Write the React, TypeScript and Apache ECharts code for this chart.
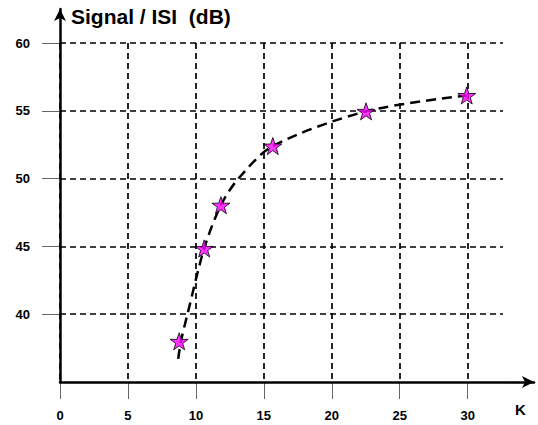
import React, { useEffect, useRef } from "react";
import * as echarts from "echarts";

const starK = [8.77, 10.61, 11.84, 15.66, 22.52, 29.93];
const starSignal = [38.0, 44.85, 48.04, 52.4, 54.96, 56.13];

const curveK = [8.7, 8.9, 9.38, 10.61, 11.84, 13.13, 15.66, 22.52, 29.93];
const curveSignal = [36.7, 38.0, 40.0, 44.85, 48.04, 50.0, 52.4, 54.96, 56.13];

const xTicks = [0, 5, 10, 15, 20, 25, 30];
const yTicks = [40, 45, 50, 55, 60];

const STAR =
  "path://M50,0 L61.8,35.1 L98.1,35.1 L68.8,56.7 L79.4,91.2 L50,70 L20.6,91.2 L31.2,56.7 L1.9,35.1 L38.2,35.1 Z";

const FONT = "'Liberation Sans', Arial, sans-serif";

export default function App() {
  const ref = useRef<HTMLDivElement>(null);
  useEffect(() => {
    document.body.style.margin = "0";
    if (!ref.current) return;
    const chart = echarts.init(ref.current, undefined, { renderer: "svg" });
    const gridDash = { color: "#000", width: 1.7, type: [6, 4] as number[] };
    const tickStyle = { color: "#666", width: 1, type: "solid" as const };
    const labelStyle = { fontFamily: FONT, fontWeight: "bold", fontSize: 13, color: "#000" };
    const bare = {
      axisLine: { show: false },
      axisTick: { show: false },
      axisLabel: { show: false },
    };
    const arrowAxis = {
      type: "value",
      min: 0,
      max: 1,
      axisLine: {
        show: true,
        onZero: false,
        symbol: ["none", "arrow"],
        symbolSize: [9, 12],
        lineStyle: { color: "#000", width: 2.5 },
      },
      axisTick: { show: false },
      axisLabel: { show: false },
      splitLine: { show: false },
    };
    chart.setOption({
      animation: false,
      backgroundColor: "#fff",
      title: {
        text: "Signal / ISI  (dB)",
        left: 66,
        top: 1,
        textStyle: { fontFamily: FONT, fontWeight: "bold", fontSize: 21, color: "#000" },
      },
      graphic: [
        {
          type: "text",
          left: 515,
          top: 402,
          style: { text: "K", font: `bold 15px ${FONT}`, fill: "#000" },
        },
      ],
      grid: [
        { left: 60, right: 35, top: 43, bottom: 43 },
        { left: 60, right: 4, top: 9, bottom: 43 },
        // strip below the x axis holding the x ticks
        { left: 60, right: 35, top: 382, bottom: 26 },
        // strip left of the y axis holding the y ticks
        { left: 42, width: 18, top: 43, bottom: 43 },
      ],
      xAxis: [
        {
          gridIndex: 0,
          type: "value",
          min: 0,
          max: 32.6,
          interval: 5,
          axisLine: { show: false },
          axisTick: { show: false },
          axisLabel: { customValues: xTicks, margin: 27, ...labelStyle },
          splitLine: { show: true, showMaxLine: false, lineStyle: gridDash },
        },
        { gridIndex: 1, ...arrowAxis },
        {
          gridIndex: 2,
          type: "value",
          min: 0,
          max: 32.6,
          interval: 5,
          ...bare,
          splitLine: { show: true, showMinLine: true, showMaxLine: false, lineStyle: tickStyle },
        },
        { gridIndex: 3, type: "value", min: 0, max: 1, ...bare, splitLine: { show: false } },
      ],
      yAxis: [
        {
          gridIndex: 0,
          type: "value",
          min: 35,
          max: 60,
          interval: 5,
          axisLine: { show: false },
          axisTick: { show: false },
          axisLabel: { customValues: yTicks, margin: 30, ...labelStyle },
          splitLine: { show: true, showMinLine: false, lineStyle: gridDash },
        },
        { gridIndex: 1, ...arrowAxis },
        { gridIndex: 2, type: "value", min: 0, max: 1, ...bare, splitLine: { show: false } },
        {
          gridIndex: 3,
          type: "value",
          min: 35,
          max: 60,
          interval: 5,
          ...bare,
          splitLine: { show: true, showMinLine: false, showMaxLine: true, lineStyle: tickStyle },
        },
      ],
      series: [
        {
          type: "line",
          xAxisIndex: 0,
          yAxisIndex: 0,
          data: curveK.map((k, i) => [k, curveSignal[i]]),
          smooth: 0.3,
          showSymbol: false,
          symbol: "none",
          lineStyle: { color: "#000", width: 2.5, type: [10, 6] },
          z: 3,
        },
        {
          type: "scatter",
          xAxisIndex: 0,
          yAxisIndex: 0,
          data: starK.map((k, i) => [k, starSignal[i]]),
          symbol: STAR,
          symbolKeepAspect: true,
          symbolSize: 18,
          itemStyle: { color: "#ff00ff", borderColor: "#000", borderWidth: 1 },
          z: 4,
        },
      ],
    });
    return () => chart.dispose();
  }, []);
  return <div ref={ref} style={{ width: 538, height: 425 }} />;
}
